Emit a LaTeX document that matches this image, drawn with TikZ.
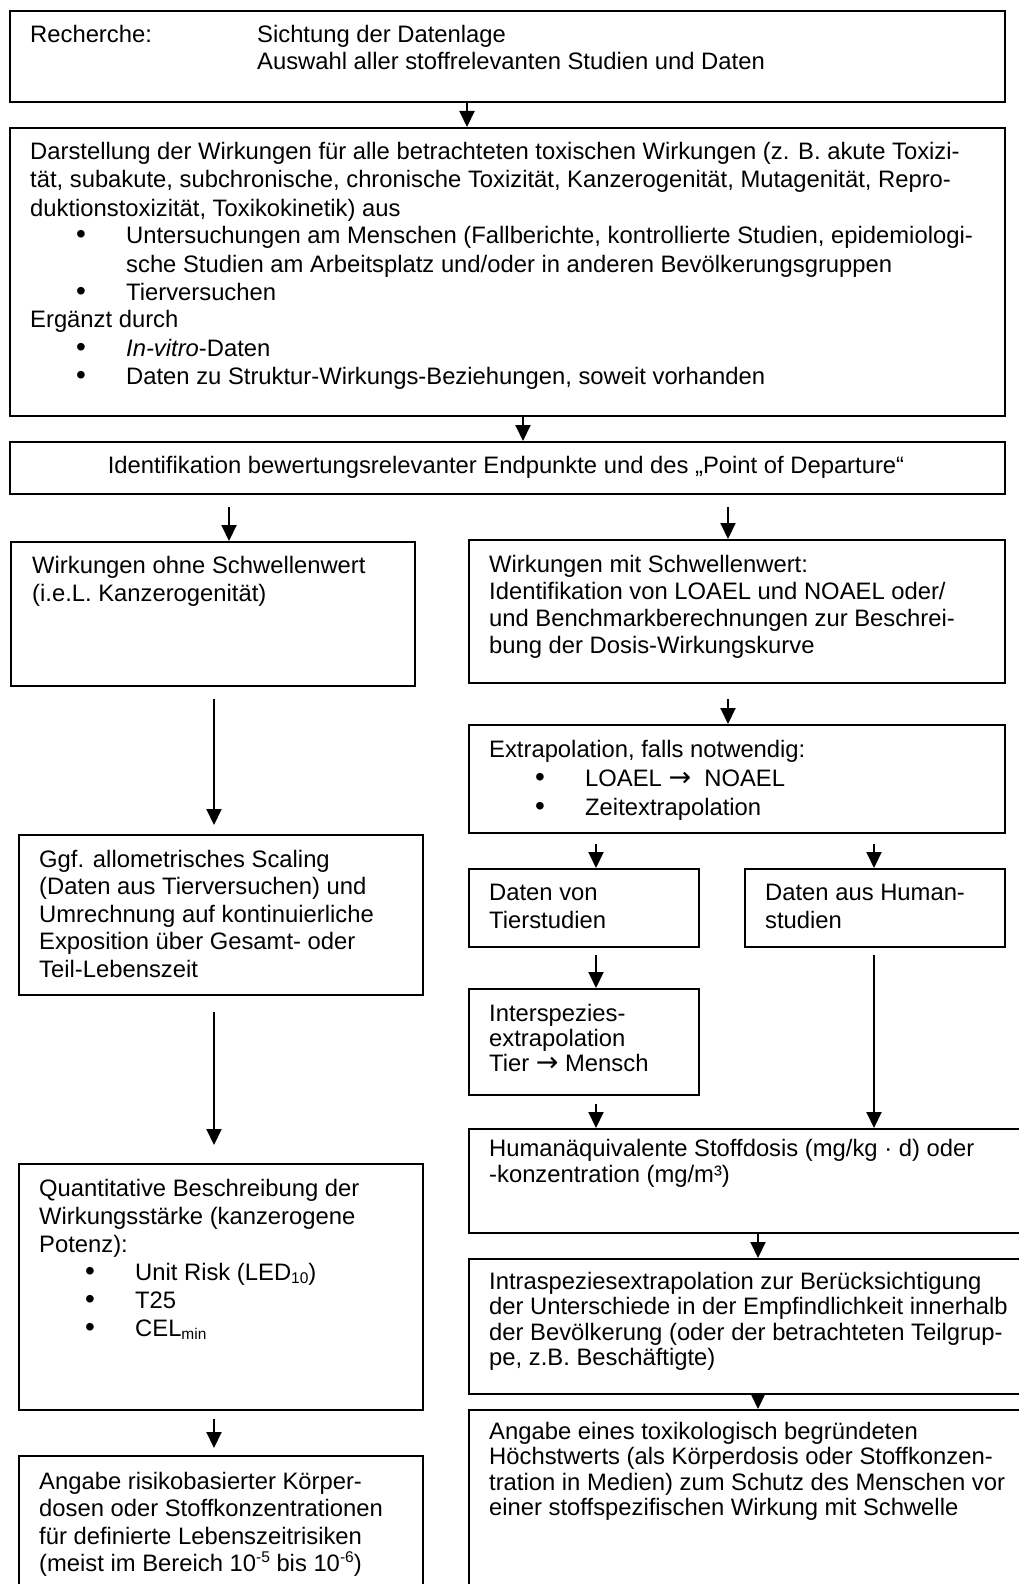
\documentclass[tikz,border=0pt]{standalone}
\usepackage{fontspec}
\setmainfont{Liberation Sans}
\newfontfamily\arrowfont{DejaVu Sans}
\usetikzlibrary{arrows.meta}

% bullet with hanging indent, arrow glyph, small sub/superscripts
\newcommand\bul{\hspace*{46pt}\makebox[50pt][l]{\fontsize{28pt}{28pt}\selectfont •}}
\newcommand\ra{{\arrowfont\fontsize{27pt}{27pt}\selectfont →}}
\newcommand\lowidx[1]{\raisebox{-3pt}{\fontsize{15.5pt}{15.5pt}\selectfont #1}}
\newcommand\highidx[1]{\raisebox{9pt}{\fontsize{15.5pt}{15.5pt}\selectfont #1}}
\newcommand\lines[2]{\parbox[t]{#1}{#2}}

\begin{document}
\begin{tikzpicture}[x=1pt,y=-1pt,
  box/.style={draw, line width=2.2pt, rectangle, inner sep=0pt, anchor=north west},
  txt/.style={anchor=base west, inner sep=0pt, font=\fontsize{23.8pt}{27.5pt}\selectfont},
  pitch/.style={font=\fontsize{23.8pt}{#1}\selectfont},
  arr/.style={line width=2pt, -{Triangle[width=15pt,length=16pt]}},
  ]
\useasboundingbox (0,0) rectangle (1019,1584);
\clip (0,0) rectangle (1019,1584);

% ---------- boxes ----------
\node[box, minimum width=995pt, minimum height=91pt]  (b1) at (9,10) {};
\node[box, minimum width=995pt, minimum height=288pt] (b2) at (9,127) {};
\node[box, minimum width=995pt, minimum height=52pt]  (b3) at (9,441) {};

\node[box, minimum width=404pt, minimum height=144pt] (l1) at (10,541) {};
\node[box, minimum width=404pt, minimum height=160pt] (l2) at (18,834) {};
\node[box, minimum width=404pt, minimum height=246pt] (l3) at (18,1163) {};
\node[box, minimum width=404pt, minimum height=160pt] (l4) at (18,1455) {};

\node[box, minimum width=536pt, minimum height=143pt] (r1) at (468,539) {};
\node[box, minimum width=536pt, minimum height=108pt] (r2) at (468,724) {};
\node[box, minimum width=230pt, minimum height=78pt]  (r3) at (468,868) {};
\node[box, minimum width=260pt, minimum height=78pt]  (r4) at (744,868) {};
\node[box, minimum width=230pt, minimum height=106pt] (r5) at (468,988) {};
\node[box, minimum width=570pt, minimum height=104pt] (r6) at (468,1128) {};
\node[box, minimum width=570pt, minimum height=135pt] (r7) at (468,1258) {};
\node[box, minimum width=570pt, minimum height=200pt] (r8) at (468,1409) {};

% ---------- texts ----------
\node[txt, pitch=27pt] (t1) at (30,43) {\lines{960pt}{%
  \makebox[227pt][l]{Recherche:}Sichtung der Datenlage\\
  \hspace*{227pt}Auswahl aller stoffrelevanten Studien und Daten}};

\node[txt, pitch=28pt] (t2) at (30,160) {\lines{975pt}{%
  Darstellung der Wirkungen für alle betrachteten toxischen Wirkungen (z. B. akute Toxizi-\\
  tät, subakute, subchronische, chronische Toxizität, Kanzerogenität, Mutagenität, Repro-\\
  duktionstoxizität, Toxikokinetik) aus\\
  \bul Untersuchungen am Menschen (Fallberichte, kontrollierte Studien, epidemiologi-\\
  \hspace*{96pt}sche Studien am Arbeitsplatz und/oder in anderen Bevölkerungsgruppen\\
  \bul Tierversuchen\\
  Ergänzt durch\\
  \bul \textit{In-vitro}-Daten\\
  \bul Daten zu Struktur-Wirkungs-Beziehungen, soweit vorhanden}};

\node[txt, anchor=base] (t3) at (506,473) {Identifikation bewertungsrelevanter Endpunkte und des „Point of Departure“};

\node[txt, pitch=28.5pt] (tl1) at (32,573) {\lines{380pt}{%
  Wirkungen ohne Schwellenwert\\
  (i.e.L. Kanzerogenität)}};

\node[txt] (tl2) at (39,867) {\lines{380pt}{%
  Ggf. allometrisches Scaling\\
  (Daten aus Tierversuchen) und\\
  Umrechnung auf kontinuierliche\\
  Exposition über Gesamt- oder\\
  Teil-Lebenszeit}};

\node[txt, pitch=28pt] (tl3) at (39,1196) {\lines{380pt}{%
  Quantitative Beschreibung der\\
  Wirkungsstärke (kanzerogene\\
  Potenz):\\
  \bul Unit Risk (LED\lowidx{10})\\
  \bul T25\\
  \bul CEL\lowidx{min}}};

\node[txt] (tl4) at (39,1489) {\lines{380pt}{%
  Angabe risikobasierter Körper-\\
  dosen oder Stoffkonzentrationen\\
  für definierte Lebenszeitrisiken\\
  (meist im Bereich 10\highidx{-5} bis 10\highidx{-6})}};

\node[txt, pitch=27pt] (tr1) at (489,572) {\lines{510pt}{%
  Wirkungen mit Schwellenwert:\\
  Identifikation von LOAEL und NOAEL oder/\\
  und Benchmarkberechnungen zur Beschrei-\\
  bung der Dosis-Wirkungskurve}};

\node[txt, pitch=29pt] (tr2) at (489,757) {\lines{510pt}{%
  Extrapolation, falls notwendig:\\
  \bul LOAEL \ra\ \ NOAEL\\
  \bul Zeitextrapolation}};

\node[txt, pitch=28pt] (tr3) at (489,900) {\lines{205pt}{%
  Daten von\\
  Tierstudien}};

\node[txt, pitch=28pt] (tr4) at (765,900) {\lines{235pt}{%
  Daten aus Human-\\
  studien}};

\node[txt, pitch=25pt] (tr5) at (489,1021) {\lines{205pt}{%
  Interspezies-\\
  extrapolation\\
  Tier \ra\ Mensch}};

\node[txt, pitch=26pt] (tr6) at (489,1156) {\lines{540pt}{%
  Humanäquivalente Stoffdosis (mg/kg · d) oder\\
  -konzentration (mg/m³)}};

\node[txt, pitch=25.5pt] (tr7) at (489,1289) {\lines{540pt}{%
  Intraspeziesextrapolation zur Berücksichtigung\\
  der Unterschiede in der Empfindlichkeit innerhalb\\
  der Bevölkerung (oder der betrachteten Teilgrup-\\
  pe, z.B. Beschäftigte)}};

\node[txt, pitch=25.5pt] (tr8) at (489,1439) {\lines{540pt}{%
  Angabe eines toxikologisch begründeten\\
  Höchstwerts (als Körperdosis oder Stoffkonzen-\\
  tration in Medien) zum Schutz des Menschen vor\\
  einer stoffspezifischen Wirkung mit Schwelle}};

% ---------- connector columns ----------
\coordinate (xa) at (467,0);
\coordinate (xb) at (523,0);
\coordinate (xl) at (229,0);
\coordinate (xll) at (214,0);
\coordinate (xr) at (728,0);
\coordinate (xt) at (596,0);
\coordinate (xh) at (874,0);
\coordinate (xi) at (758,0);

% ---------- connectors ----------
\draw[arr] (b1.south -| xa) -- (b2.north -| xa);
\draw[arr] (b2.south -| xb) -- (b3.north -| xb);
\draw[arr, shorten <=12pt] (b3.south -| xl) -- (l1.north -| xl);
\draw[arr, shorten <=12pt] (b3.south -| xr) -- (r1.north -| xr);

\draw[arr, shorten <=12pt, shorten >=9pt] (l1.south -| xll) -- (l2.north -| xll);
\draw[arr, shorten <=16pt, shorten >=18pt] (l2.south -| xll) -- (l3.north -| xll);
\draw[arr, shorten <=8pt, shorten >=7pt] (l3.south -| xll) -- (l4.north -| xll);

\draw[arr, shorten <=15pt] (r1.south -| xr) -- (r2.north -| xr);
\draw[arr, shorten <=10pt] (r2.south -| xt) -- (r3.north -| xt);
\draw[arr, shorten <=10pt] (r2.south -| xh) -- (r4.north -| xh);
\draw[arr, shorten <=7pt] (r3.south -| xt) -- (r5.north -| xt);
\draw[arr, shorten <=7pt] (r4.south -| xh) -- (r6.north -| xh);
\draw[arr, shorten <=8pt] (r5.south -| xt) -- (r6.north -| xt);
\draw[arr] (r6.south -| xi) -- (r7.north -| xi);
\draw[arr, shorten <=-4pt] (r7.south -| xi) -- (r8.north -| xi);
\end{tikzpicture}
\end{document}
